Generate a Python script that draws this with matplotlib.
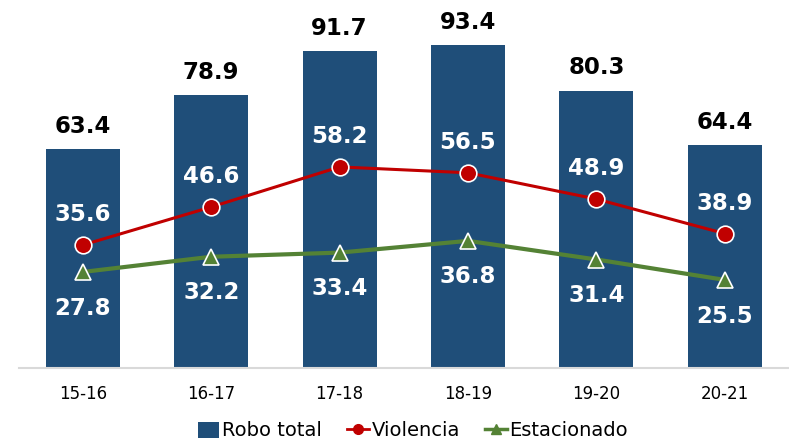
import matplotlib.pyplot as plt
from matplotlib.lines import Line2D
from matplotlib.patches import Patch
import numpy as np

# Data
periods = ["15-16", "16-17", "17-18", "18-19", "19-20", "20-21"]
robo_total = [63.4, 78.9, 91.7, 93.4, 80.3, 64.4]
violencia = [35.6, 46.6, 58.2, 56.5, 48.9, 38.9]
estacionado = [27.8, 32.2, 33.4, 36.8, 31.4, 25.5]

BAR_COLOR = "#1F4E79"
RED = "#C00000"
GREEN = "#548235"

plt.rcParams['font.family'] = ['DejaVu Sans']

fig = plt.figure(figsize=(7.89, 4.45), dpi=100)
ax = fig.add_axes([18.6 / 789, 77 / 445, 1 - 18.6 / 789, 345.5 / 445])

x = np.arange(len(periods))
ax.bar(x, robo_total, width=0.575, color=BAR_COLOR, zorder=1)
ax.plot(x, violencia, color=RED, linewidth=2.2, marker='o', markersize=12,
        markerfacecolor=RED, markeredgecolor='white', markeredgewidth=1.2, zorder=3)
ax.plot(x, estacionado, color=GREEN, linewidth=3, marker='^', markersize=12,
        markerfacecolor=GREEN, markeredgecolor='white', markeredgewidth=1.2, zorder=3)

# Data labels
lab_kw = dict(textcoords='offset points', ha='center', fontsize=16.5, fontweight='bold')
for xi, v in zip(x, robo_total):
    ax.annotate(f"{v:.1f}", (xi, v), xytext=(0, 8), va='bottom', color='black', **lab_kw)
for xi, v in zip(x, violencia):
    ax.annotate(f"{v:.1f}", (xi, v), xytext=(0, 22), va='center', color='white', **lab_kw)
for xi, v in zip(x, estacionado):
    ax.annotate(f"{v:.1f}", (xi, v), xytext=(0, -26), va='center', color='white', **lab_kw)

ax.set_xlim(-0.5, 5.5)
ax.set_ylim(0, 100)
ax.set_xticks(x)
ax.set_xticklabels(periods, fontsize=12)
ax.tick_params(axis='x', length=0, pad=12)
ax.set_yticks([])
for side in ['left', 'right', 'top']:
    ax.spines[side].set_visible(False)
ax.spines['bottom'].set_color('#D9D9D9')
ax.spines['bottom'].set_linewidth(1.5)

handles = [
    Patch(facecolor=BAR_COLOR, label="Robo total"),
    Line2D([], [], color=RED, linewidth=2, marker='o', markersize=7, label="Violencia"),
    Line2D([], [], color=GREEN, linewidth=2.5, marker='^', markersize=7, label="Estacionado"),
]
fig.legend(handles=handles, loc='center', bbox_to_anchor=(413 / 789, 14 / 445), ncol=3,
           frameon=False, fontsize=14, handlelength=1.1, handleheight=0.9,
           handletextpad=0.15, columnspacing=1.3)

fig.savefig("out.png", dpi=100)
